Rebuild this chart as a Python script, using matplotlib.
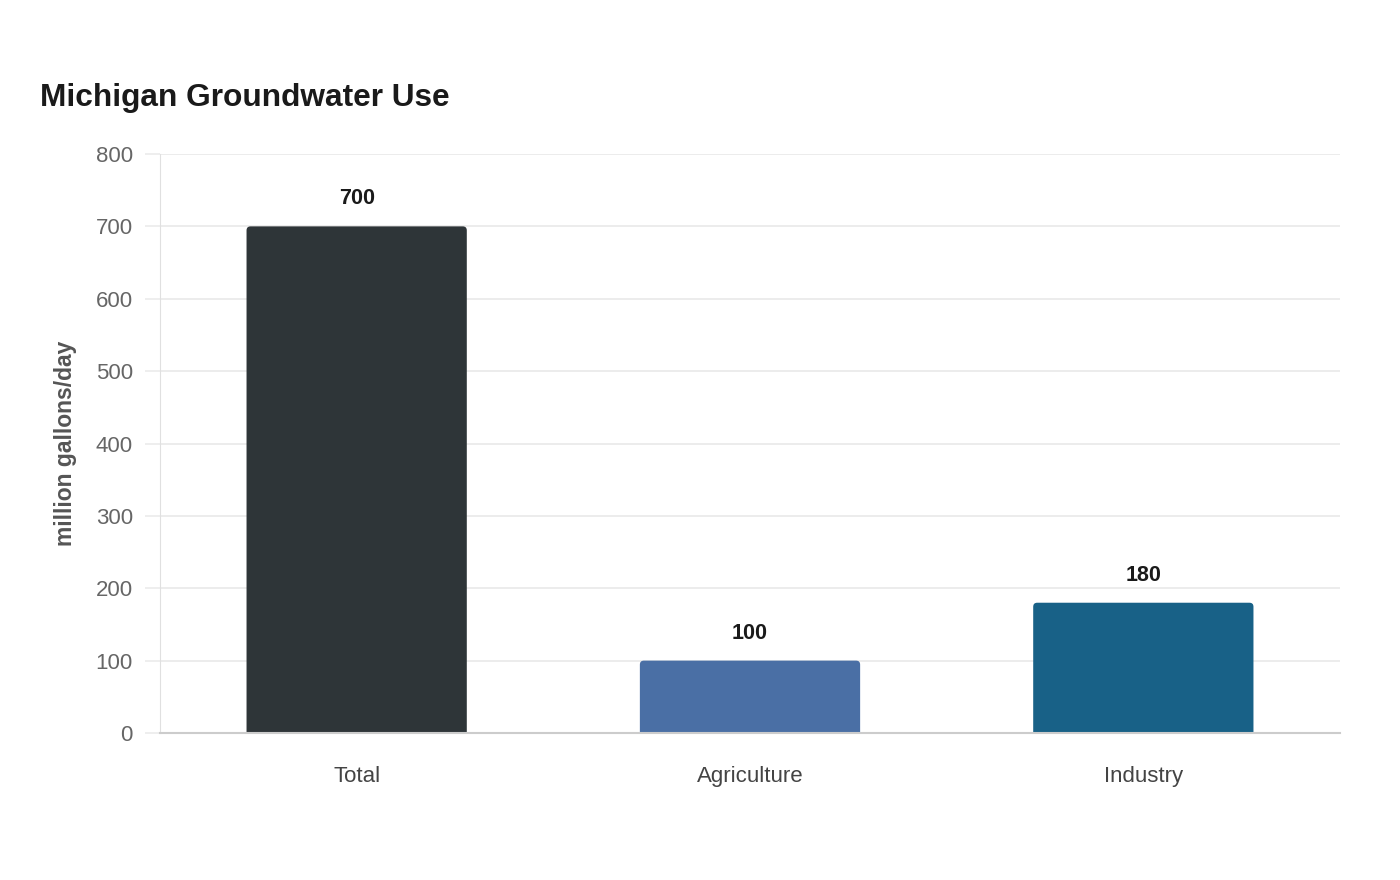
import matplotlib.pyplot as plt
from matplotlib.patches import FancyBboxPatch

plt.rcParams['font.family'] = ['Liberation Sans', 'DejaVu Sans']

# data
categories = ['Total', 'Agriculture', 'Industry']
values = [700, 100, 180]
colors = ['#2e3538', '#4a6fa5', '#186187']
y_ticks = [0, 100, 200, 300, 400, 500, 600, 700, 800]

fig = plt.figure(figsize=(14, 8.8), dpi=100)
ax = fig.add_axes([160 / 1400, 1 - 733 / 880, 1180 / 1400, 579 / 880])

ax.set_xlim(-0.5, len(categories) - 0.5)
ax.set_ylim(0, 800)

bar_w = 0.56
# pixel -> data scaling for rounded corners
px_x = (len(categories)) / 1180
px_y = 800 / 579
r = 4 * px_x
aspect = px_y / px_x
for i, (v, c) in enumerate(zip(values, colors)):
    x0 = i - bar_w / 2 + r
    y0 = -r * aspect
    w = bar_w - 2 * r
    h = v - y0 - r * aspect
    p = FancyBboxPatch((x0, y0), w, h,
                       boxstyle=f"round,pad={r},rounding_size={r}",
                       mutation_aspect=aspect, facecolor=c, edgecolor='none',
                       zorder=3)
    ax.add_patch(p)
    ax.annotate(str(v), (i, v), xytext=(0, 19.8), textcoords='offset points',
                ha='center', va='center', fontsize=15.5, fontweight='bold',
                color='#1a1a1a')

ax.set_xticks(range(len(categories)))
ax.set_xticklabels(categories, fontsize=16, color='#444444')
ax.set_yticks(y_ticks)
ax.set_yticklabels([str(t) for t in y_ticks], fontsize=16, color='#666666')
ax.tick_params(axis='x', length=0, pad=24)
ax.tick_params(axis='y', length=11, width=1.2, color='#ebebeb', pad=8.5)

ax.grid(axis='y', color='#ebebeb', linewidth=1.3, zorder=0)
ax.set_axisbelow(True)

for s in ['top', 'right']:
    ax.spines[s].set_visible(False)
ax.spines['left'].set_color('#e0e0e0')
ax.spines['left'].set_linewidth(0.8)
ax.spines['bottom'].set_color('#cccccc')
ax.spines['bottom'].set_linewidth(1.5)
ax.spines['bottom'].set_zorder(4)

ax.set_ylabel('million gallons/day', fontsize=16.5, fontweight='bold',
              color='#555555', labelpad=13.5)

fig.text(40 / 1400, 1 - 98 / 880, 'Michigan Groundwater Use', fontsize=22.8,
         fontweight='bold', color='#1a1a1a', ha='left', va='center')

fig.savefig('out.png', dpi=100)
